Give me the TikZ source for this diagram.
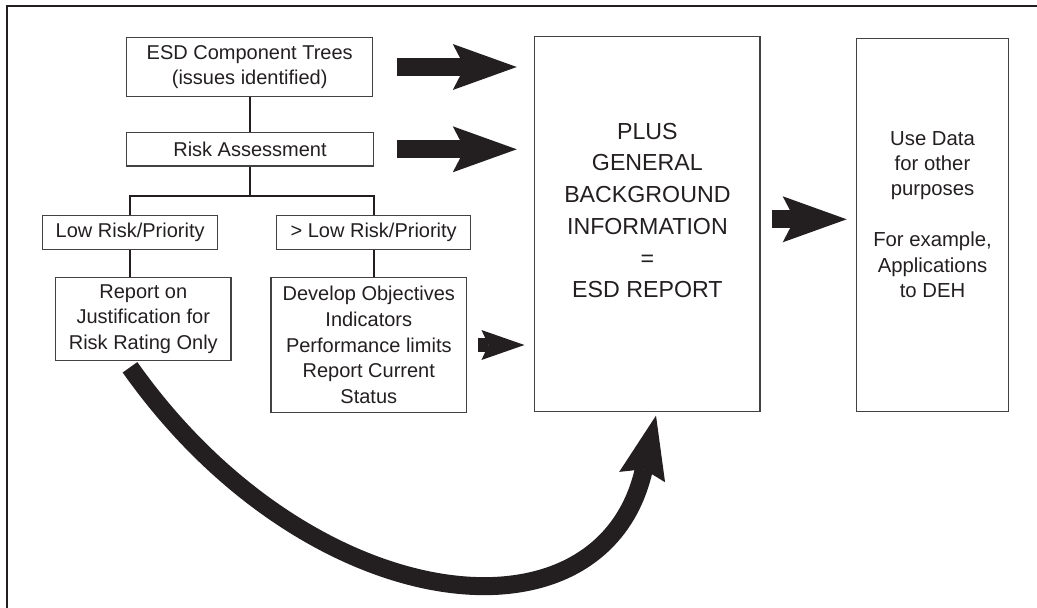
\documentclass[tikz,border=0pt]{standalone}
\usepackage{fontspec}
\setmainfont{Liberation Sans}
\usetikzlibrary{arrows.meta}
\definecolor{ink}{HTML}{231F20}
\begin{document}
\begin{tikzpicture}[x=1pt,y=-1pt,
  box/.style={draw=ink!85, line width=1.2pt, inner sep=0pt, align=center, text=ink,
    font=\fontsize{20}{25.6}\selectfont},
  bigtext/.style={inner sep=0pt, align=center, text=ink, font=\fontsize{23.2}{31.7}\selectfont},
  usetext/.style={inner sep=0pt, align=center, text=ink, font=\fontsize{20.3}{25.4}\selectfont},
  conn/.style={draw=ink, line width=2pt},
  frameline/.style={draw=ink, line width=1.3pt},
  fatarrow/.style={draw=ink, line width=17.7pt,
    -{Stealth[length=64pt,width=46pt,inset=12pt,line width=0pt]}},
  midarrow/.style={draw=ink, line width=13.5pt,
    -{Stealth[length=43pt,width=30pt,inset=7pt,line width=0pt]}},
  curvearrow/.style={draw=ink, line width=18pt,
    -{Stealth[length=63pt,width=47pt,inset=8pt,line width=0pt]}}
]
\useasboundingbox (0,0) rectangle (1037,608);
\draw[frameline] (7,608) -- (7,6) -- (1037,6);

\node[box, minimum width=246pt, minimum height=59.4pt] (esd) at (249.7,67)
  {ESD Component Trees\\(issues identified)};
\node[box, minimum width=246.6pt, minimum height=33.3pt] (risk) at (250,149.3)
  {Risk Assessment};
\node[box, minimum width=175pt, minimum height=33.6pt] (low) at (130.2,232.5)
  {Low Risk/Priority};
\node[box, minimum width=194pt, minimum height=33.6pt] (high) at (373.7,232.5)
  {> Low Risk/Priority};
\node[box, minimum width=175.3pt, minimum height=83.4pt] (report) at (143.3,319)
  {Report on\\Justification for\\Risk Rating Only};
\node[box, minimum width=195.7pt, minimum height=135.4pt] (develop) at (368.8,345)
  {Develop Objectives\\Indicators\\Performance limits\\Report Current\\Status};
\node[box, minimum width=225.3pt, minimum height=375pt] (big) at (647.4,224.2) {};
\node[box, minimum width=151.6pt, minimum height=373.4pt] (use) at (932.5,225) {};

\node[bigtext] (bigtxt) at (647.4,210.5)
  {PLUS\\GENERAL\\BACKGROUND\\INFORMATION\\=\\ESD REPORT};
\node[usetext] (usetxt) at (932.5,214.4)
  {Use Data\\for other\\purposes\\[25.4pt]For example,\\Applications\\to DEH};

% tree connectors
\draw[conn] (esd.south) -- (esd.south |- risk.north);
\coordinate (br) at ([yshift=-29.7pt]risk.south);
\draw[conn] (risk.south) -- (br);
\draw[conn] (low.north) -- (low.north |- br) -- (high.north |- br) -- (high.north);
\draw[conn] (low.south) -- (low.south |- report.north);
\draw[conn] (high.south) -- (high.south |- develop.north);

% block arrows
\path (big.west |- esd.east) coordinate (t1)
      (big.west |- risk.east) coordinate (t2)
      (big.west |- develop.east) coordinate (t3);
\draw[fatarrow] ([xshift=23.3pt]esd.east) -- ([xshift=-17.4pt]t1);
\draw[fatarrow] ([xshift=23.3pt]risk.east) -- ([xshift=-17.4pt]t2);
\draw[midarrow] ([xshift=10.3pt]develop.east) -- ([xshift=-9.7pt]t3);
\coordinate (s4) at ([xshift=11.7pt,yshift=4.9pt]big.east);
\path (use.west |- s4) coordinate (t4);
\draw[fatarrow, line width=18.3pt] (s4) -- ([xshift=-9.4pt]t4);

% curved arrow
\coordinate (cs) at ([xshift=-13.3pt,yshift=-6pt]report.south);
\coordinate (ce) at ([xshift=8.6pt,yshift=-3.3pt]big.south);
\draw[curvearrow] (cs) .. controls +(177.7,251.6) and +(-53.9,238.9) .. (ce);
\end{tikzpicture}
\end{document}
